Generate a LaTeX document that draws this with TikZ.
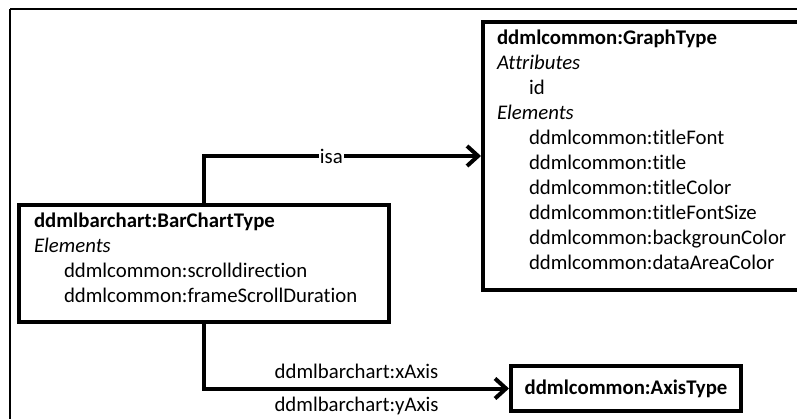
\documentclass[tikz,border=0pt]{standalone}
\usepackage{fontspec}
\setmainfont{Carlito}[Ligatures=NoCommon]
\usetikzlibrary{arrows.meta}
\newcommand{\lowpad}{\rule[-12pt]{0pt}{12pt}}
\begin{document}
\begin{tikzpicture}[x=1pt,y=-1pt,
  txt/.style={font=\fontsize{20.8}{25}\selectfont},
  typebox/.style={draw, line width=4pt, align=left, anchor=north west,
    inner xsep=14pt, inner ysep=0pt, txt},
  link/.style={line width=4pt, -{Straight Barb[length=11pt,width=20pt]}},
  lbl/.style={txt, inner sep=1pt}]
\useasboundingbox (0,0) rectangle (797,418);
\clip (0,0) rectangle (797,418);
% page frame (only the top and left sides lie inside the page)
\draw[line width=1.5pt] (800,9) -- (10,9);
\draw[line width=2.5pt] (10,9) -- (10,420);

% type boxes
\node[typebox, text width=300pt, minimum height=268pt] (graph) at (481,20) {%
  \textbf{ddmlcommon:GraphType}\\
  \textit{Attributes}\\
  \hspace*{32pt}id\\
  \textit{Elements}\\
  \hspace*{32pt}ddmlcommon:titleFont\\
  \hspace*{32pt}ddmlcommon:title\\
  \hspace*{32pt}ddmlcommon:titleColor\\
  \hspace*{32pt}ddmlcommon:titleFontSize\\
  \hspace*{32pt}ddmlcommon:backgrounColor\\
  \hspace*{32pt}ddmlcommon:dataAreaColor\lowpad};

\node[typebox, inner xsep=15pt, text width=340pt, minimum height=117pt] (bar) at (17,203) {%
  \textbf{ddmlbarchart:BarChartType}\\
  \textit{Elements}\\
  \hspace*{30pt}ddmlcommon:scrolldirection\\
  \hspace*{30pt}ddmlcommon:frameScrollDuration\lowpad};

\node[draw, line width=4pt, minimum width=230pt, minimum height=45pt, txt] (axis)
  at (626,388.5) {\textbf{ddmlcommon:AxisType}};

% relations
\draw[link] (bar.north) |- node[lbl, pos=0.73, fill=white] (isalbl) {isa} (graph.west);
\draw[link] (bar.south) |-
  node[lbl, pos=0.75, yshift=17pt] (xlbl) {ddmlbarchart:xAxis}
  node[lbl, pos=0.75, yshift=-17pt] (ylbl) {ddmlbarchart:yAxis} (axis.west);
\end{tikzpicture}
\end{document}
